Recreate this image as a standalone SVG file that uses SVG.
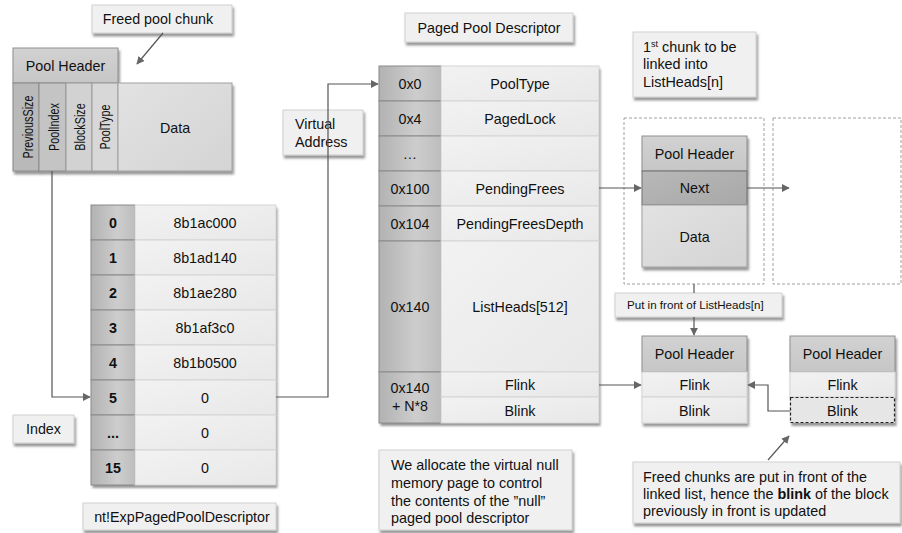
<svg xmlns="http://www.w3.org/2000/svg" width="902" height="533" viewBox="0 0 902 533">
<defs>
<linearGradient id="gDark" x1="0" y1="0" x2="1" y2="0"><stop offset="0" stop-color="#b2b2b2"/><stop offset="0.6" stop-color="#cdcdcd"/><stop offset="1" stop-color="#bdbdbd"/></linearGradient>
<linearGradient id="gLight" x1="0" y1="0" x2="1" y2="1"><stop offset="0" stop-color="#f2f2f2"/><stop offset="1" stop-color="#e8e8e8"/></linearGradient>
<linearGradient id="gHead" x1="0" y1="0" x2="0" y2="1"><stop offset="0" stop-color="#d2d2d2"/><stop offset="1" stop-color="#c6c6c6"/></linearGradient>
<linearGradient id="gData" x1="0" y1="0" x2="1" y2="1"><stop offset="0" stop-color="#e2e2e2"/><stop offset="1" stop-color="#d4d4d4"/></linearGradient>
<linearGradient id="gNext" x1="0" y1="0" x2="1" y2="1"><stop offset="0" stop-color="#b8b8b8"/><stop offset="1" stop-color="#a8a8a8"/></linearGradient>
<filter id="sh" x="-10%" y="-10%" width="130%" height="140%"><feDropShadow dx="1.5" dy="3" stdDeviation="1.2" flood-color="#444" flood-opacity="0.55"/></filter>
<marker id="arr" viewBox="0 0 10 10" refX="9" refY="5" markerWidth="8" markerHeight="8" markerUnits="userSpaceOnUse" orient="auto"><path d="M0,0 L10,5 L0,10 z" fill="#666"/></marker>
</defs>
<style>
text{font-family:"Liberation Sans",Arial,sans-serif;font-size:14.3px;fill:#111;}
.b{font-weight:bold;}
.c{text-anchor:middle;}
.v{font-size:14px;text-anchor:middle;}
.n{font-size:14.4px;}
.dk{fill:url(#gDark);stroke:#8a8a8a;stroke-width:1;}
.lt{fill:url(#gLight);stroke:#d4d4d4;stroke-width:1;}
.hd{fill:url(#gHead);stroke:#8f8f8f;stroke-width:1;}
.note{fill:#f0f0f0;stroke:#cfcfcf;stroke-width:1;filter:url(#sh);}
.ln{fill:none;stroke:#555;stroke-width:1.2;}
.dash{fill:none;stroke:#a0a0a0;stroke-width:1;stroke-dasharray:3,2;}
</style>
<rect width="902" height="533" fill="#ffffff"/>

<g id="freed-label">
<rect class="note" x="92" y="5" width="140" height="28"/>
<text x="158" y="24" class="c">Freed pool chunk</text>
</g>

<g id="freed-chunk">
<g filter="url(#sh)">
<rect class="hd" x="13" y="48" width="105" height="35"/>
<rect x="13" y="83" width="26" height="88" fill="#b9b9b9" stroke="#8a8a8a"/>
<rect x="39" y="83" width="27" height="88" fill="#c4c4c4" stroke="#8a8a8a"/>
<rect x="66" y="83" width="26" height="88" fill="#d2d2d2" stroke="#9a9a9a"/>
<rect x="92" y="83" width="26" height="88" fill="#d8d8d8" stroke="#9a9a9a"/>
<rect x="118" y="83" width="114" height="88" fill="url(#gData)" stroke="#a0a0a0"/>
</g>
<text x="65.5" y="71" class="c">Pool Header</text>
<text transform="translate(33,127) rotate(-90) scale(0.77,1)" class="v">PreviousSize</text>
<text transform="translate(58.5,127) rotate(-90) scale(0.77,1)" class="v">PoolIndex</text>
<text transform="translate(84.5,127) rotate(-90) scale(0.77,1)" class="v">BlockSize</text>
<text transform="translate(110,127) rotate(-90) scale(0.77,1)" class="v">PoolType</text>
<text x="175" y="133" class="c">Data</text>
</g>

<g id="index-label">
<rect class="note" x="13" y="415" width="61" height="28"/>
<text x="43.5" y="434" class="c">Index</text>
</g>

<g id="exp-table">
<g filter="url(#sh)">
<rect x="91" y="205" width="185" height="280" fill="#eee"/>
</g>
<rect class="dk" x="91" y="205" width="44" height="35"/><rect class="lt" x="135" y="205" width="141" height="35"/>
<rect class="dk" x="91" y="240" width="44" height="35"/><rect class="lt" x="135" y="240" width="141" height="35"/>
<rect class="dk" x="91" y="275" width="44" height="35"/><rect class="lt" x="135" y="275" width="141" height="35"/>
<rect class="dk" x="91" y="310" width="44" height="35"/><rect class="lt" x="135" y="310" width="141" height="35"/>
<rect class="dk" x="91" y="345" width="44" height="35"/><rect class="lt" x="135" y="345" width="141" height="35"/>
<rect class="dk" x="91" y="380" width="44" height="35"/><rect class="lt" x="135" y="380" width="141" height="35"/>
<rect class="dk" x="91" y="415" width="44" height="35"/><rect class="lt" x="135" y="415" width="141" height="35"/>
<rect class="dk" x="91" y="450" width="44" height="35"/><rect class="lt" x="135" y="450" width="141" height="35"/>
<text x="113" y="228" class="c b">0</text><text x="205" y="228" class="c">8b1ac000</text>
<text x="113" y="263" class="c b">1</text><text x="205" y="263" class="c">8b1ad140</text>
<text x="113" y="298" class="c b">2</text><text x="205" y="298" class="c">8b1ae280</text>
<text x="113" y="333" class="c b">3</text><text x="205" y="333" class="c">8b1af3c0</text>
<text x="113" y="368" class="c b">4</text><text x="205" y="368" class="c">8b1b0500</text>
<text x="113" y="403" class="c b">5</text><text x="205" y="403" class="c">0</text>
<text x="113" y="438" class="c b">...</text><text x="205" y="438" class="c">0</text>
<text x="113" y="473" class="c b">15</text><text x="205" y="473" class="c">0</text>
</g>

<g id="exp-label">
<rect class="note" x="83" y="503" width="193" height="27"/>
<text x="182" y="522" class="c">nt!ExpPagedPoolDescriptor</text>
</g>

<g id="va-label">
<rect class="note" x="283" y="110" width="80" height="45"/>
<text x="295" y="129">Virtual</text>
<text x="295" y="147">Address</text>
</g>

<g id="ppd-label">
<rect class="note" x="405" y="13" width="168" height="29"/>
<text x="489" y="33" class="c">Paged Pool Descriptor</text>
</g>

<g id="ppd-table">
<g filter="url(#sh)"><rect x="379" y="66" width="220" height="357" fill="#eee"/></g>
<rect class="dk" x="379" y="66" width="62" height="35"/><rect class="lt" x="441" y="66" width="158" height="35"/>
<rect class="dk" x="379" y="101" width="62" height="35"/><rect class="lt" x="441" y="101" width="158" height="35"/>
<rect class="dk" x="379" y="136" width="62" height="35"/><rect class="lt" x="441" y="136" width="158" height="35"/>
<rect class="dk" x="379" y="171" width="62" height="35"/><rect class="lt" x="441" y="171" width="158" height="35"/>
<rect class="dk" x="379" y="206" width="62" height="35"/><rect class="lt" x="441" y="206" width="158" height="35"/>
<rect class="dk" x="379" y="241" width="62" height="131"/><rect class="lt" x="441" y="241" width="158" height="131"/>
<rect class="dk" x="379" y="372" width="62" height="51"/>
<rect class="lt" x="441" y="372" width="158" height="25"/><rect class="lt" x="441" y="397" width="158" height="26"/>
<text x="410" y="89" class="c">0x0</text><text x="520" y="89" class="c">PoolType</text>
<text x="410" y="124" class="c">0x4</text><text x="520" y="124" class="c">PagedLock</text>
<text x="410" y="159" class="c">…</text>
<text x="410" y="194" class="c">0x100</text><text x="520" y="194" class="c">PendingFrees</text>
<text x="410" y="229" class="c">0x104</text><text x="520" y="229" class="c">PendingFreesDepth</text>
<text x="410" y="312" class="c">0x140</text><text x="520" y="312" class="c">ListHeads[512]</text>
<text x="410" y="393" class="c">0x140</text><text x="410" y="411" class="c">+ N*8</text>
<text x="520" y="390" class="c">Flink</text><text x="520" y="416" class="c">Blink</text>
</g>

<g id="alloc-note">
<rect class="note" x="379" y="450" width="193" height="80"/>
<text x="391" y="470" class="n">We allocate the virtual null</text>
<text x="391" y="488" class="n">memory page to control</text>
<text x="391" y="506" class="n">the contents of the ”null”</text>
<text x="391" y="523" class="n">paged pool descriptor</text>
</g>

<g id="first-chunk-label">
<rect class="note" x="633" y="32" width="123" height="65"/>
<text x="643" y="52" class="n">1<tspan style="font-size:9px" dy="-5">st</tspan><tspan dy="5"> chunk to be</tspan></text>
<text x="643" y="69" class="n">linked into</text>
<text x="643" y="87" class="n">ListHeads[n]</text>
</g>

<g id="chunk1">
<rect class="dash" x="624" y="118" width="140" height="166"/>
<g filter="url(#sh)">
<rect class="hd" x="642" y="136" width="105" height="35"/>
<rect x="642" y="171" width="105" height="34" fill="url(#gNext)" stroke="#707070"/>
<rect x="642" y="205" width="105" height="62" fill="url(#gData)" stroke="#a0a0a0"/>
</g>
<text x="694.5" y="159" class="c">Pool Header</text>
<text x="694.5" y="193" class="c">Next</text>
<text x="694.5" y="242" class="c">Data</text>
</g>

<g id="chunk2-placeholder">
<rect class="dash" x="773" y="118" width="128" height="166"/>
</g>

<g id="put-front-label">
<rect class="note" x="615" y="293" width="167" height="24"/>
<text x="627" y="309" style="font-size:11.6px">Put in front of ListHeads[n]</text>
</g>

<g id="chunk-new">
<g filter="url(#sh)">
<rect class="hd" x="642" y="336" width="105" height="36"/>
<rect class="lt" x="642" y="372" width="105" height="25"/>
<rect class="lt" x="642" y="397" width="105" height="26"/>
</g>
<text x="694.5" y="359" class="c">Pool Header</text>
<text x="694.5" y="390" class="c">Flink</text>
<text x="694.5" y="416" class="c">Blink</text>
</g>

<g id="chunk-prev">
<g filter="url(#sh)">
<rect class="hd" x="790" y="336" width="105" height="36"/>
<rect class="lt" x="790" y="372" width="105" height="25"/>
<rect x="790" y="397" width="105" height="26" fill="#e6e6e6"/>
</g>
<rect x="790.5" y="397.5" width="104" height="25" fill="none" stroke="#222" stroke-width="1.2" stroke-dasharray="3,2"/>
<text x="842.5" y="359" class="c">Pool Header</text>
<text x="842.5" y="390" class="c">Flink</text>
<text x="842.5" y="416" class="c">Blink</text>
</g>

<g id="freed-note">
<rect class="note" x="633" y="462" width="267" height="61"/>
<text x="643" y="482" class="n">Freed chunks are put in front of the</text>
<text x="643" y="499" class="n">linked list, hence the <tspan class="b">blink</tspan> of the block</text>
<text x="643" y="516" class="n">previously in front is updated</text>
</g>

<g id="connectors">
<path class="ln" d="M163,33 L137,64" marker-end="url(#arr)"/>
<path class="ln" d="M52,171 V397 H90" marker-end="url(#arr)"/>
<path class="ln" d="M276,397 H328 V84 H378" marker-end="url(#arr)"/>
<path class="ln" d="M599,188 H641" marker-end="url(#arr)"/>
<path class="ln" d="M747,188 H789" marker-end="url(#arr)"/>
<path class="ln" d="M694,284 V293"/>
<path class="ln" d="M694,317 V335" marker-end="url(#arr)"/>
<path class="ln" d="M599,385 H641" marker-end="url(#arr)"/>
<path class="ln" d="M790,411 H768 V385 H748" marker-end="url(#arr)"/>
<path class="ln" d="M768,460 L789,436" marker-end="url(#arr)"/>
</g>
</svg>
